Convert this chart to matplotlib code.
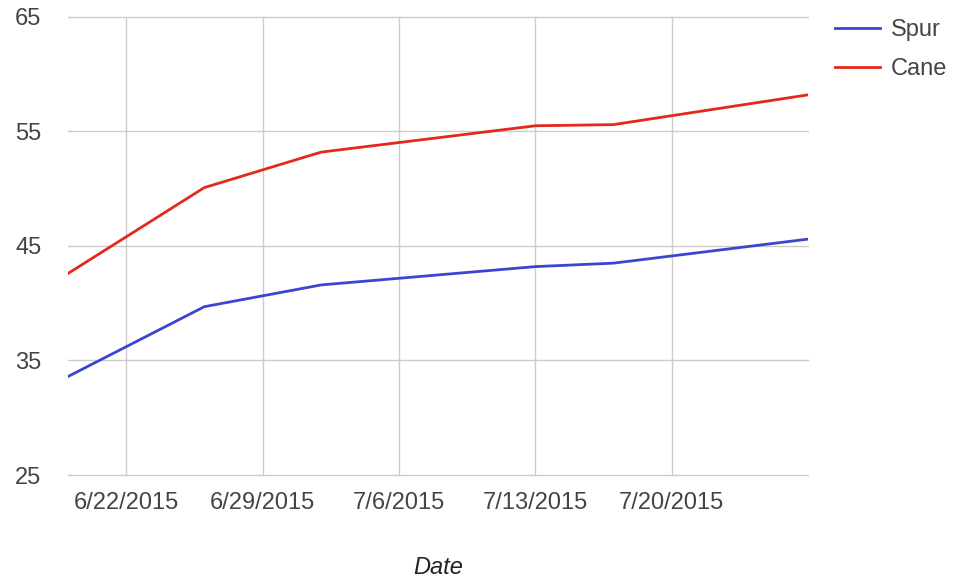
import matplotlib
matplotlib.use("Agg")
import matplotlib.pyplot as plt
import matplotlib.dates as mdates
import numpy as np
import datetime as dt

# ---- data ----
dates = ["2015-06-19", "2015-06-26", "2015-07-02", "2015-07-13", "2015-07-17", "2015-07-27"]
spur = [33.6, 39.7, 41.6, 43.2, 43.5, 45.6]
cane = [42.6, 50.1, 53.2, 55.5, 55.6, 58.2]
series_names = ["Spur", "Cane"]
xtick_dates = ["2015-06-22", "2015-06-29", "2015-07-06", "2015-07-13", "2015-07-20"]
xtick_labels = ["6/22/2015", "6/29/2015", "7/6/2015", "7/13/2015", "7/20/2015"]
yticks = [25, 35, 45, 55, 65]
x_range = ["2015-06-19", "2015-07-27"]

plt.rcParams["font.family"] = ["Liberation Sans", "DejaVu Sans"]
FS = 17

def to_dt(s):
    return dt.datetime.strptime(s, "%Y-%m-%d")

x = [to_dt(d) for d in dates]

fig = plt.figure(figsize=(9.55, 5.78), dpi=100)
ax = fig.add_axes([68/955, 1-475/578, (808-68)/955, (475-17)/578])

ax.plot(x, spur, color="#3a46d0", lw=2.0, label=series_names[0], solid_joinstyle="round")
ax.plot(x, cane, color="#e3291b", lw=2.0, label=series_names[1], solid_joinstyle="round")

ax.set_xlim(to_dt(x_range[0]), to_dt(x_range[1]))
ax.set_ylim(yticks[0], yticks[-1])
ax.set_yticks(yticks)
ax.set_yticklabels([str(v) for v in yticks])
ax.set_xticks([mdates.date2num(to_dt(d)) for d in xtick_dates])
ax.set_xticklabels(xtick_labels)

for s in ax.spines.values():
    s.set_visible(False)
ax.grid(True, color="#cccccc", lw=1.0)
ax.set_axisbelow(True)
for gl in ax.get_ygridlines() + ax.get_xgridlines():
    gl.set_clip_on(False)
ax.tick_params(axis="both", length=0, labelsize=FS, labelcolor="#444444")
ax.tick_params(axis="y", pad=19)
ax.tick_params(axis="x", pad=12.5)

ax.set_xlabel("Date", fontsize=FS, style="italic", color="#222222", labelpad=30)

leg = ax.legend(loc="upper left", bbox_to_anchor=(835/955, 1-19/578), bbox_transform=fig.transFigure,
                frameon=False, fontsize=FS, handlelength=1.9, handletextpad=0.45,
                labelspacing=0.72, borderaxespad=0, borderpad=0)
for t in leg.get_texts():
    t.set_color("#444444")

fig.savefig("out.png", dpi=100)
